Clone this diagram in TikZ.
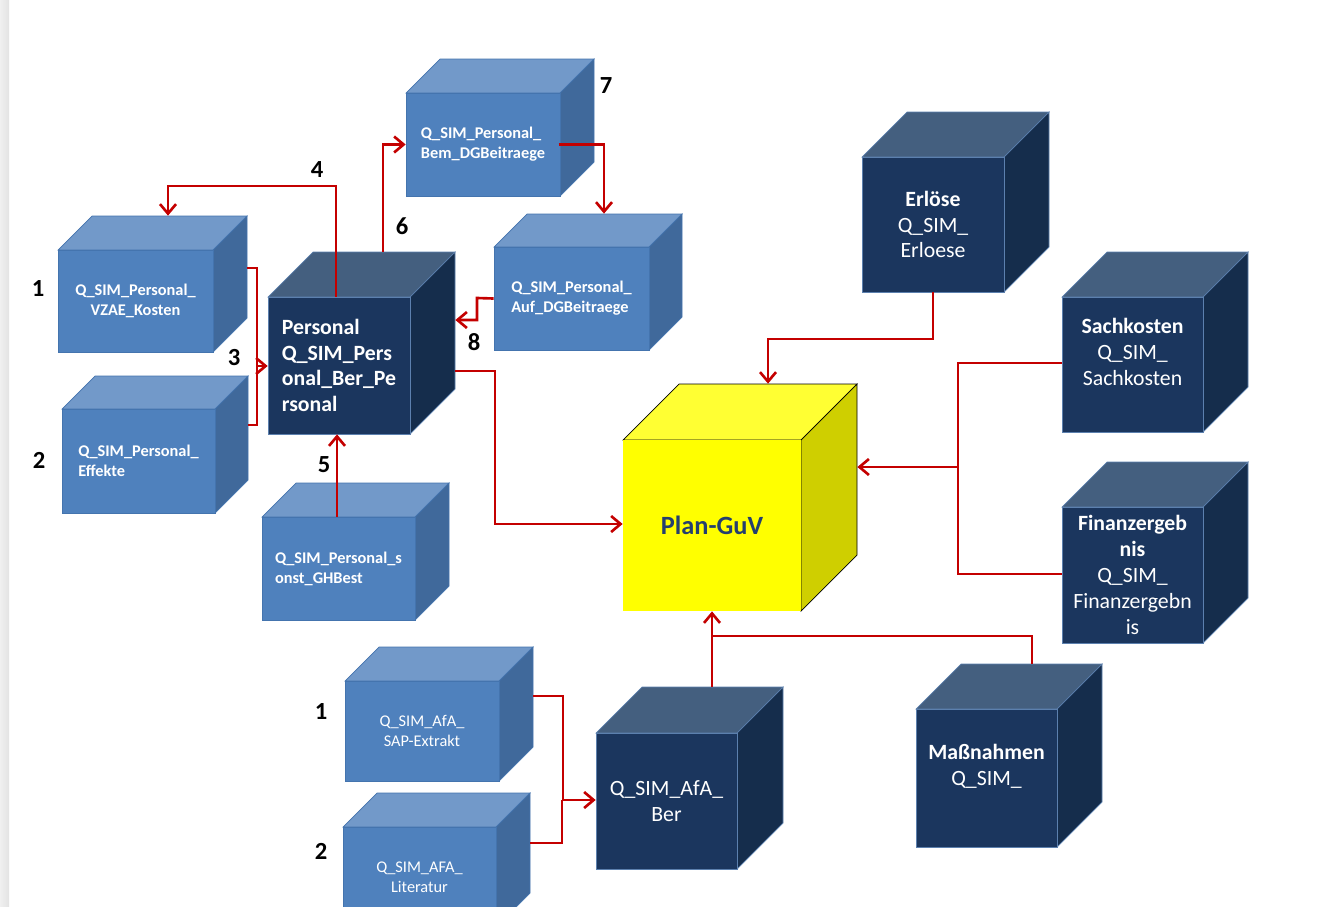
\documentclass[tikz,border=0pt]{standalone}
\usepackage{fontspec}
\setmainfont{Carlito}
\usepackage{xcolor}
\usepackage{tikz}
\usetikzlibrary{arrows.meta}
\usetikzlibrary{fit}

\definecolor{lightfront}{HTML}{4F81BD}
\definecolor{lighttop}{HTML}{7299C9}
\definecolor{lightside}{HTML}{40699B}
\definecolor{lightedge}{HTML}{4474AE}
\definecolor{darkfront}{HTML}{1B365E}
\definecolor{darktop}{HTML}{445F7F}
\definecolor{darkside}{HTML}{152D4C}
\definecolor{darkedge}{HTML}{5C80AE}
\definecolor{yellowfront}{HTML}{FFFF00}
\definecolor{yellowtop}{HTML}{FFFF33}
\definecolor{yellowside}{HTML}{CFCF00}
\definecolor{linkred}{HTML}{C40000}
\definecolor{guvtext}{HTML}{243F6E}

\newcommand{\smallfont}{\fontsize{9.3}{11.3}\selectfont}
\newcommand{\bigfont}{\fontsize{12.4}{14.7}\selectfont}

% one box: name, kind, text options, front corners, depth, text
\newcommand{\cube}[9]{%
  \filldraw[#2 top] (#4,#5) -- (#4+#8,#5-#8) -- (#6+#8,#5-#8) -- (#6,#5) -- cycle;
  \filldraw[#2 side] (#6,#5) -- (#6+#8,#5-#8) -- (#6+#8,#7-#8) -- (#6,#7) -- cycle;
  \node[#2 front, fit={(#4,#5) (#6,#7)}] (#1) {};
  \node[fit={(#4,#5-#8) (#6+#8,#7)}, inner sep=0pt] (#1-all) {};
  \node[#2 text, #3] (#1-text) at (#1.center) {#9};
}

\tikzset{
  light top/.style={fill=lighttop, draw=lightedge, line width=0.4pt},
  light side/.style={fill=lightside, draw=lightedge, line width=0.4pt},
  light front/.style={fill=lightfront, draw=lightedge, line width=0.4pt, inner sep=0pt},
  light text/.style={text=white, font=\smallfont\bfseries, align=left, inner sep=0pt},
  dark top/.style={fill=darktop, draw=darkedge, line width=0.4pt},
  dark side/.style={fill=darkside, draw=darkedge, line width=0.4pt},
  dark front/.style={fill=darkfront, draw=darkedge, line width=0.4pt, inner sep=0pt},
  dark text/.style={text=white, font=\bigfont, align=center, inner sep=0pt},
  yellow top/.style={fill=yellowtop},
  yellow side/.style={fill=yellowside},
  yellow front/.style={fill=yellowfront, inner sep=0pt},
  yellow text/.style={text=guvtext, font=\fontsize{15}{18}\selectfont\bfseries, inner sep=0pt},
  link/.style={draw=linkred, line width=1.5pt},
  num/.style={font=\fontsize{14}{16}\selectfont\bfseries, text=black}
}

\begin{document}
\begin{tikzpicture}[x=0.02cm, y=-0.02cm, >={Straight Barb[length=1.9mm,width=3.2mm]}]
  \useasboundingbox (0,0) rectangle (1327,906);
  \clip (0,0) rectangle (1327,906);
  \shade[left color=gray!12, right color=gray!22] (0,0) rectangle (9,906);

  % personal part
  \cube{vzae}{light}{align=center}{58}{250}{213}{352}{34}{Q\_SIM\_Personal\_\\VZAE\_Kosten}
  \cube{eff}{light}{}{62}{409}{215}{513}{33}{Q\_SIM\_Personal\_\\Effekte}
  \cube{pers}{dark}{align=left, font=\bigfont\bfseries}{268}{297}{410}{434}{45}{Personal\\Q\_SIM\_Pers\\onal\_Ber\_Pe\\rsonal}
  \cube{ghb}{light}{}{262}{517}{415}{620}{34}{Q\_SIM\_Personal\_s\\onst\_GHBest}
  \cube{bem}{light}{}{406}{93}{560}{196}{34}{Q\_SIM\_Personal\_\\Bem\_DGBeitraege}
  \cube{auf}{light}{}{494}{247}{649}{350}{33}{Q\_SIM\_Personal\_\\Auf\_DGBeitraege}

  % right part
  \cube{erl}{dark}{}{862}{157}{1004}{292}{45}{\textbf{Erlöse}\\Q\_SIM\_\\Erloese}
  \cube{sach}{dark}{}{1062}{297}{1203}{432}{45}{\textbf{Sachkosten}\\Q\_SIM\_\\Sachkosten\\~}
  \cube{fin}{dark}{}{1062}{507}{1203}{643}{45}{\textbf{Finanzergeb}\\\textbf{nis}\\Q\_SIM\_\\Finanzergebn\\is}
  \cube{plan}{yellow}{}{623}{440}{801}{611}{56}{Plan-GuV}
  \cube{mass}{dark}{}{916}{709}{1057}{847}{45}{\textbf{Maßnahmen}\\Q\_SIM\_\\~}

  % afa part
  \cube{afa}{dark}{}{596}{733}{737}{869}{46}{Q\_SIM\_AfA\_\\Ber}
  \cube{sap}{light}{align=center, font=\smallfont}{345}{681}{499}{781}{34}{Q\_SIM\_AfA\_\\SAP-Extrakt}
  \cube{lit}{light}{align=center, font=\smallfont}{343}{827}{496}{927}{34}{Q\_SIM\_AFA\_\\Literatur}

  % connectors
  \draw[link,->] (pers.north -| 336,0) -- (336,186) -| (vzae-all.north -| 168,0);
  \draw[link,->] (pers-all.north -| 383,0) |- (bem.west);
  \draw[link,->] ([xshift=-1pt]bem.east) -| (auf-all.north -| 604,0);
  \draw[link,->] (auf.west) -- (477,298) |- (pers-all.east |- 0,320);
  \draw[link,->] (vzae-all.east |- 0,268) -- (257,268) |- (pers.west |- 0,366);
  \draw[link] (eff-all.east |- 0,425) -- (257,425) -- (257,366);
  \draw[link,->] (ghb.north -| 337,0) -- (pers.south -| 337,0);
  \draw[link,->] (pers-all.east |- 0,371) -- (495,371) |- (plan.west |- 0,524);

  \coordinate (join) at (958,467);
  \draw[link,->] (erl.south) -- (erl.south |- 0,339) -| (plan-all.north -| 768,0);
  \draw[link] (sach.west |- 0,363) -| (join);
  \draw[link] (fin.west |- 0,574) -| (join);
  \draw[link,->] (join) -- (plan-all.east |- join);
  \draw[link,->] (afa-all.north -| 712,0) -- (plan.south -| 712,0);
  \draw[link] (mass-all.north -| 1032,0) |- (712,636);
  \draw[link,->] (sap-all.east |- 0,696) -- (563,696) |- (afa.west |- 0,800);
  \draw[link] (lit-all.east |- 0,843) -- (562,843) -- (562,800);

  % step numbers
  \node[num] (n1) at (38,289) {1};
  \node[num] (n2) at (39,460) {2};
  \node[num] (n3) at (234,358) {3};
  \node[num] (n4) at (317,170) {4};
  \node[num] (n5) at (324,465) {5};
  \node[num] (n6) at (402,226) {6};
  \node[num] (n7) at (606,86) {7};
  \node[num] (n8) at (474,342) {8};
  \node[num] (m1) at (321,711) {1};
  \node[num] (m2) at (321,851) {2};
\end{tikzpicture}
\end{document}
